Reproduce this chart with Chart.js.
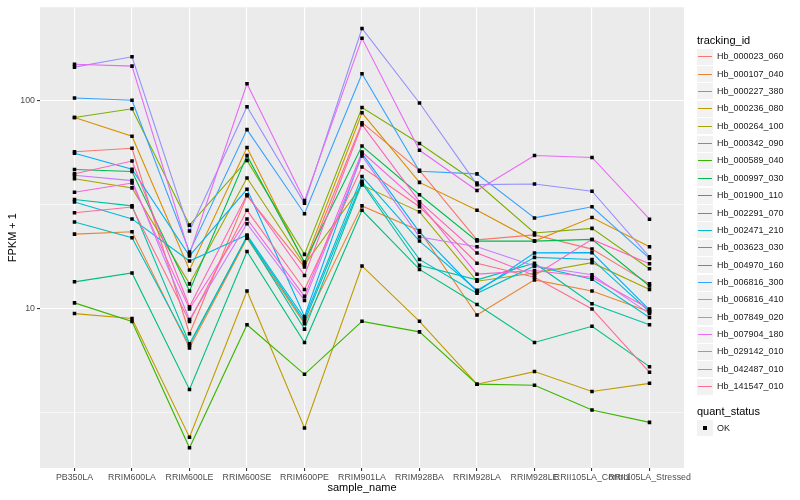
<!DOCTYPE html>
<html>
<head>
<meta charset="utf-8">
<script src="https://cdn.jsdelivr.net/npm/chart.js@4/dist/chart.umd.min.js"></script>
<style>
  body { margin: 0; background: #fff; font-family: "Liberation Sans", Arial, Helvetica, sans-serif; }
  #wrap { position: relative; width: 800px; height: 500px; }
  #legend { position: absolute; left: 0; top: 0; width: 800px; height: 500px; pointer-events: none; }
  .ttl { position: absolute; left: 697px; font-size: 11px; color: #000; line-height: 13px; }
  .key { position: absolute; left: 697px; width: 16px; height: 16px; background: #F2F2F2; }
  .key i { position: absolute; left: 1px; right: 1px; top: 7.5px; height: 1px; }
  .lab { position: absolute; left: 717px; font-size: 9px; line-height: 11px; color: #1a1a1a; }
</style>
</head>
<body>
<div id="wrap">
  <canvas id="lineChart" width="800" height="500"></canvas>
  <div id="legend"></div>
</div>
<script>
// samples on the x axis
var sampleNames = ['PB350LA', 'RRIM600LA', 'RRIM600LE', 'RRIM600SE', 'RRIM600PE', 'RRIM901LA',
                   'RRIM928BA', 'RRIM928LA', 'RRIM928LE', 'RRII105LA_Control', 'RRII105LA_Stressed'];

// y axis labels (log scale, FPKM + 1)
var yTickLabels = [10, 100];
var yMinorTicks = [3.1623, 31.623];

var trackingIds = ['Hb_000023_060', 'Hb_000107_040', 'Hb_000227_380', 'Hb_000236_080', 'Hb_000264_100',
                   'Hb_000342_090', 'Hb_000589_040', 'Hb_000997_030', 'Hb_001900_110', 'Hb_002291_070',
                   'Hb_002471_210', 'Hb_003623_030', 'Hb_004970_160', 'Hb_006816_300', 'Hb_006816_410',
                   'Hb_007849_020', 'Hb_007904_180', 'Hb_029142_010', 'Hb_042487_010', 'Hb_141547_010'];

// ggplot default hue palette for 20 groups
var lineColors = ['#F8766D', '#EA8331', '#D89000', '#C09B00', '#A3A500', '#7CAE00', '#39B600', '#00BB4E',
                  '#00BF7D', '#00C1A3', '#00BFC4', '#00BAE0', '#00B0F6', '#35A2FF', '#9590FF', '#C77CFF',
                  '#E76BF3', '#FA62DB', '#FF62BC', '#FF6C91'];

// FPKM + 1 per gene, one value per sample
var hb000023 = [57.0, 59.2, 7.6, 35.0, 15.9, 78.6, 46.4, 21.5, 22.7, 19.4, 13.2];
var hb000107 = [22.9, 23.5, 6.5, 21.9, 8.5, 31.3, 23.8, 9.36, 13.8, 12.2, 9.7];
var hb000227 = [83.2, 67.6, 15.4, 59.7, 16.6, 87.7, 40.6, 29.8, 21.2, 27.5, 19.9];
var hb000236 = [9.5, 9.0, 2.42, 12.2, 2.68, 16.1, 8.72, 4.35, 5.0, 4.01, 4.39];
var hb000264 = [42.3, 38.2, 13.2, 42.6, 16.3, 39.4, 29.3, 13.6, 14.9, 16.7, 12.4];
var hb000342 = [83.2, 91.7, 25.3, 51.8, 18.3, 93.0, 62.4, 40.3, 23.2, 24.4, 15.6];
var hb000589 = [10.7, 8.7, 2.15, 8.4, 4.85, 8.72, 7.76, 4.35, 4.30, 3.27, 2.85];
var hb000997 = [46.8, 45.8, 12.2, 54.6, 16.8, 60.7, 35.4, 21.2, 21.2, 21.6, 12.9];
var hb001900 = [13.5, 14.9, 4.1, 18.9, 6.9, 29.8, 15.5, 10.5, 6.9, 8.26, 5.28];
var hb002291 = [33.6, 31.3, 6.8, 22.2, 8.0, 40.2, 16.2, 13.8, 16.6, 10.6, 8.4];
var hb002471 = [26.2, 22.0, 6.7, 22.4, 8.7, 41.1, 17.3, 11.9, 16.1, 13.9, 9.1];
var hb003623 = [32.7, 27.1, 17.0, 22.7, 9.0, 43.3, 21.2, 12.3, 17.7, 17.3, 9.7];
var hb004970 = [56.0, 47.0, 18.0, 37.6, 9.2, 56.0, 23.4, 12.1, 18.6, 18.65, 9.9];
var hb006816a = [103.3, 100.7, 18.8, 72.8, 28.7, 135, 45.9, 44.6, 27.4, 31.0, 17.5];
var hb006816b = [145.4, 163, 23.7, 93.8, 32.2, 223, 97.8, 39.6, 39.9, 36.8, 17.8];
var hb007849 = [43.9, 41.4, 8.9, 25.7, 11.0, 54.4, 22.2, 19.9, 16.1, 14.6, 9.5];
var hb007904 = [150, 147, 18.4, 121, 33.2, 200, 57.9, 37.1, 54.7, 53.5, 27.0];
var hb029142 = [36.4, 40.3, 10.0, 27.1, 11.5, 56.8, 32.2, 14.7, 15.3, 14.2, 10.0];
var hb042487 = [44.7, 51.4, 10.25, 35.4, 14.5, 76.9, 32.8, 18.6, 14.5, 21.6, 16.5];
var hb141547 = [29.0, 30.9, 8.7, 29.8, 12.4, 48.1, 31.0, 16.6, 14.2, 10.0, 4.96];

var seriesValues = [hb000023, hb000107, hb000227, hb000236, hb000264, hb000342, hb000589, hb000997,
                    hb001900, hb002291, hb002471, hb003623, hb004970, hb006816a, hb006816b, hb007849,
                    hb007904, hb029142, hb042487, hb141547];

var FONT = '"Liberation Sans", Arial, Helvetica, sans-serif';

function toPoints(vals) {
    return vals.map(function (v, i) { return { x: i, y: v }; });
}

var datasets = [];
// lines first (later genes drawn on top, like ggplot)
seriesValues.forEach(function (vals, k) {
    datasets.push({
        label: trackingIds[k],
        data: toPoints(vals),
        borderColor: lineColors[k],
        backgroundColor: lineColors[k],
        borderWidth: 1.1,
        pointRadius: 0,
        tension: 0,
        fill: false,
        order: 100 - k
    });
});
// black points on top of every line
seriesValues.forEach(function (vals, k) {
    datasets.push({
        label: trackingIds[k] + ' OK',
        data: toPoints(vals),
        showLine: false,
        pointStyle: 'rect',
        pointRadius: 2.5,
        pointBorderWidth: 0,
        pointBackgroundColor: '#000',
        pointBorderColor: '#000',
        order: 0
    });
});

var panelBg = {
    id: 'panelBg',
    beforeDraw: function (chart) {
        var a = chart.chartArea, ctx = chart.ctx;
        ctx.save();
        ctx.fillStyle = '#EBEBEB';
        ctx.fillRect(a.left, a.top, a.right - a.left, a.bottom - a.top);
        ctx.restore();
    }
};

var ctx = document.getElementById('lineChart').getContext('2d');
var myLineChart = new Chart(ctx, {
    type: 'line',
    data: { datasets: datasets },
    options: {
        responsive: false,
        animation: false,
        devicePixelRatio: 1,
        layout: { padding: { top: 5, right: 116, left: 0, bottom: 0 } },
        plugins: { legend: { display: false }, tooltip: { enabled: false } },
        scales: {
            x: {
                type: 'linear',
                min: -0.6,
                max: 10.6,
                afterBuildTicks: function (scale) {
                    scale.ticks = sampleNames.map(function (s, i) { return { value: i }; });
                },
                afterFit: function (scale) { scale.height = 32; },
                ticks: {
                    autoSkip: false,
                    maxRotation: 0,
                    minRotation: 0,
                    padding: 1,
                    color: '#4D4D4D',
                    font: { family: FONT, size: 8.8 },
                    callback: function (v) { return sampleNames[v]; }
                },
                grid: { color: '#FFFFFF', lineWidth: 1.1, tickColor: '#333333', tickLength: 3 },
                border: { display: false },
                title: {
                    display: true, text: 'sample_name', color: '#000',
                    font: { family: FONT, size: 11 }, padding: { top: 5.5, bottom: 5.5 }
                }
            },
            y: {
                type: 'logarithmic',
                min: 1.72,
                max: 282,
                afterBuildTicks: function (scale) {
                    var t = yTickLabels.concat(yMinorTicks).sort(function (a, b) { return a - b; });
                    scale.ticks = t.map(function (v) { return { value: v, major: yTickLabels.indexOf(v) >= 0 }; });
                },
                afterFit: function (scale) { scale.width = 40; },
                ticks: {
                    padding: 2,
                    color: '#4D4D4D',
                    font: { family: FONT, size: 8.8 },
                    callback: function (v) { return yTickLabels.indexOf(v) >= 0 ? String(v) : ''; }
                },
                grid: {
                    color: '#FFFFFF',
                    lineWidth: function (c) { return c.tick && yTickLabels.indexOf(c.tick.value) >= 0 ? 1.1 : 0.55; },
                    tickColor: function (c) { return c.tick && yTickLabels.indexOf(c.tick.value) >= 0 ? '#333333' : 'rgba(0,0,0,0)'; },
                    tickLength: 3
                },
                border: { display: false },
                title: {
                    display: true, text: 'FPKM + 1', color: '#000',
                    font: { family: FONT, size: 11 }, padding: { top: 6, bottom: 6 }
                }
            }
        }
    },
    plugins: [panelBg]
});

// ggplot-style legend as html text
var legend = document.getElementById('legend');
function addEl(cls, top, text) {
    var d = document.createElement('div');
    d.className = cls;
    d.style.top = top + 'px';
    if (text) d.textContent = text;
    legend.appendChild(d);
    return d;
}
addEl('ttl', 34, 'tracking_id');
trackingIds.forEach(function (id, k) {
    var c = 56.7 + k * 17.37;
    var key = addEl('key', c - 8);
    var ln = document.createElement('i');
    ln.style.background = lineColors[k];
    key.appendChild(ln);
    addEl('lab', c - 5.5, id);
});
addEl('ttl', 405, 'quant_status');
var okKey = addEl('key', 428.3 - 8);
var sq = document.createElement('i');
sq.style.cssText = 'left:6px;right:6px;top:6px;height:4px;background:#000';
okKey.appendChild(sq);
addEl('lab', 428.3 - 5.5, 'OK');
</script>
</body>
</html>
